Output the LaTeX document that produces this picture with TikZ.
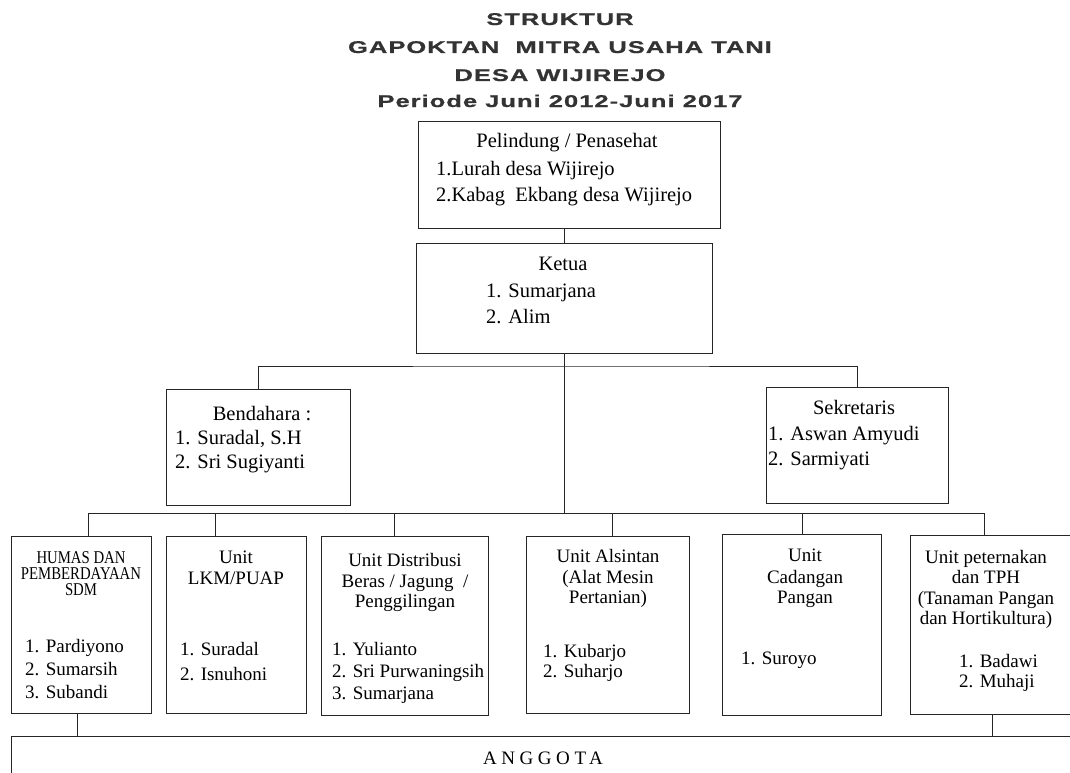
\documentclass[tikz,border=0pt]{standalone}
\usepackage{fontspec}
\setmainfont{Liberation Serif}
\newfontfamily\titlefont{Liberation Sans}[LetterSpace=4,FakeBold=0.6]
\newfontfamily\spacedserif{Liberation Serif}[LetterSpace=24]
\newcommand\widetitle[1]{\scalebox{1.5}[1]{#1}}
\begin{document}
\begin{tikzpicture}[x=1pt,y=-1pt, font=\fontsize{20.5}{24}\selectfont,
  box/.style={draw=black!85, line width=1pt, anchor=north west, inner sep=0},
  ln/.style={draw=black!85, line width=1pt},
  tc/.style={inner sep=0, anchor=base},
  tl/.style={inner sep=0, anchor=base west},
  uc/.style={inner sep=0, anchor=base, font=\fontsize{19}{22}\selectfont},
  ul/.style={inner sep=0, anchor=base west, font=\fontsize{19}{22}\selectfont},
  ttl/.style={inner sep=0, anchor=base, text=black!80, font=\titlefont\bfseries\fontsize{17}{20}\selectfont},
  small/.style={inner sep=0, anchor=base, font=\fontsize{18}{18}\selectfont}]
\useasboundingbox (0,0) rectangle (1070,773);

% title
\node[ttl] (ti1) at (560,25) {\widetitle{STRUKTUR}};
\node[ttl] (ti2) at (560,53) {\widetitle{GAPOKTAN\ \ MITRA USAHA TANI}};
\node[ttl] (ti3) at (560,81) {\widetitle{DESA WIJIREJO}};
\node[ttl] (ti4) at (560,107) {\widetitle{Periode Juni 2012-Juni 2017}};

% boxes
\node[box, minimum width=302pt, minimum height=107pt] (pel) at (418,121) {};
\node[box, minimum width=296pt, minimum height=110pt] (ket) at (416,243) {};
\node[box, minimum width=184pt, minimum height=116pt] (ben) at (166,389) {};
\node[box, minimum width=182pt, minimum height=116pt] (sek) at (766,387) {};
\node[box, minimum width=140pt, minimum height=177pt] (hum) at (11,536) {};
\node[box, minimum width=140pt, minimum height=177pt] (lkm) at (166,536) {};
\node[box, minimum width=167pt, minimum height=179pt] (dis) at (321,536) {};
\node[box, minimum width=163pt, minimum height=177pt] (als) at (526,536) {};
\node[box, minimum width=159pt, minimum height=181pt] (cad) at (722,534) {};
\node[box, minimum width=175pt, minimum height=179pt] (pet) at (910,535) {};
\node[box, minimum width=1075pt, minimum height=50pt] (ang) at (11,736) {};

% connectors
\draw[ln] (pel.south -| ket.north) -- (ket.north);
\coordinate (j1) at (564,366);
\draw[ln] (ben.north) |- (j1) -| (sek.north);
\coordinate (b2L) at (88,513);
\coordinate (b2R) at (984,513);
\coordinate (d2) at (215,513);
\coordinate (d3) at (394,513);
\coordinate (d4) at (612,513);
\coordinate (d5) at (802,513);
\draw[ln] (ket.south) -- (ket.south |- b2L);
\draw[ln] (b2L) -- (b2R);
\draw[ln] (b2L) -- (b2L |- hum.north);
\draw[ln] (d2) -- (d2 |- lkm.north);
\draw[ln] (d3) -- (d3 |- dis.north);
\draw[ln] (d4) -- (d4 |- als.north);
\draw[ln] (d5) -- (d5 |- cad.north);
\draw[ln] (b2R) -- (b2R |- pet.north);
\coordinate (u1) at (77,713);
\coordinate (u2) at (992,714);
\draw[ln] (u1 |- hum.south) -- (u1 |- ang.north);
\draw[ln] (u2 |- pet.south) -- (u2 |- ang.north);

% Pelindung
\node[tc] (p0) at (567,147) {Pelindung / Penasehat};
\node[tl] (p1) at (436,175) {1.Lurah desa Wijirejo};
\node[tl] (p2) at (436,201) {2.Kabag\ \ Ekbang desa Wijirejo};
% Ketua
\node[tc] (k0) at (563,270) {Ketua};
\node[tl] (k1) at (486,297) {1. Sumarjana};
\node[tl] (k2) at (486,323) {2. Alim};
% Bendahara
\node[tc] (be0) at (262,420) {Bendahara :};
\node[tl] (be1) at (175,444) {1. Suradal, S.H};
\node[tl] (be2) at (175,468) {2. Sri Sugiyanti};
% Sekretaris
\node[tc] (se0) at (854,414) {Sekretaris};
\node[tl] (se1) at (768,440) {1. Aswan Amyudi};
\node[tl] (se2) at (768,465) {2. Sarmiyati};
% Humas
\node[small] (h0) at (81,563) {\scalebox{0.82}[1]{HUMAS DAN}};
\node[small] (h1) at (81,579) {\scalebox{0.82}[1]{PEMBERDAYAAN}};
\node[small] (h2) at (81,595) {\scalebox{0.82}[1]{SDM}};
\node[ul] (h3) at (25,652) {1. Pardiyono};
\node[ul] (h4) at (25,675) {2. Sumarsih};
\node[ul] (h5) at (25,698) {3. Subandi};
% LKM
\node[uc] (l0) at (236,563) {Unit};
\node[uc] (l1) at (236,584) {LKM/PUAP};
\node[ul] (l2) at (180,655) {1. Suradal};
\node[ul] (l3) at (180,680) {2. Isnuhoni};
% Distribusi
\node[uc] (di0) at (405,566) {Unit Distribusi};
\node[uc] (di1) at (405,587) {Beras / Jagung\ \ /};
\node[uc] (di2) at (405,607) {Penggilingan};
\node[ul] (di3) at (332,655) {1. Yulianto};
\node[ul] (di4) at (332,677) {2. Sri Purwaningsih};
\node[ul] (di5) at (332,699) {3. Sumarjana};
% Alsintan
\node[uc] (a0) at (608,562) {Unit Alsintan};
\node[uc] (a1) at (608,583) {(Alat Mesin};
\node[uc] (a2) at (608,603) {Pertanian)};
\node[ul] (a3) at (543,657) {1. Kubarjo};
\node[ul] (a4) at (543,677) {2. Suharjo};
% Cadangan
\node[uc] (c0) at (805,561) {Unit};
\node[uc] (c1) at (805,583) {Cadangan};
\node[uc] (c2) at (805,603) {Pangan};
\node[ul] (c3) at (741,664) {1. Suroyo};
% Peternakan
\node[uc] (pe0) at (986,563) {Unit peternakan};
\node[uc] (pe1) at (986,583) {dan TPH};
\node[uc] (pe2) at (986,604) {(Tanaman Pangan};
\node[uc] (pe3) at (986,624) {dan Hortikultura)};
\node[ul] (pe4) at (959,667) {1. Badawi};
\node[ul] (pe5) at (959,687) {2. Muhaji};
% Anggota
\node[tc, font=\spacedserif\fontsize{19}{20}\selectfont] (an) at (543,764) {ANGGOTA};
\end{tikzpicture}
\end{document}
